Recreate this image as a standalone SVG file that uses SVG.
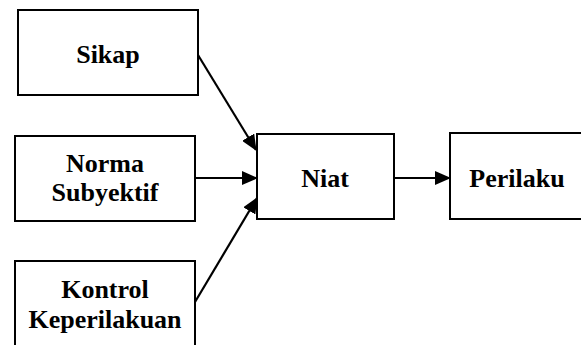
<svg xmlns="http://www.w3.org/2000/svg" width="581" height="345" viewBox="0 0 581 345">
<style>
.box{fill:#fff;stroke:#000;stroke-width:2}
.lbl{font-family:'Liberation Serif','Tinos','DejaVu Serif','Noto Serif',serif;font-weight:700;font-size:26px;fill:#000;text-anchor:middle}
.edge{stroke:#000;stroke-width:2.2;fill:none}
</style>
<defs>
<marker id="ah" markerUnits="userSpaceOnUse" markerWidth="16" markerHeight="14" refX="15" refY="7" orient="auto">
<path d="M0,0 L16,7 L0,14 Z" fill="#000"/>
</marker>
</defs>
<rect width="581" height="345" fill="#fff"/>
<g id="sikap"><rect class="box" x="18" y="10" width="180" height="85"/><text class="lbl" x="108" y="63">Sikap</text></g>
<g id="norma"><rect class="box" x="15" y="136" width="180" height="85"/><text class="lbl" x="105" y="172">Norma</text><text class="lbl" x="105" y="201">Subyektif</text></g>
<g id="kontrol"><rect class="box" x="15" y="261" width="180" height="100"/><text class="lbl" x="105" y="298">Kontrol</text><text class="lbl" x="105" y="328">Keperilakuan</text></g>
<g id="niat"><rect class="box" x="257" y="134" width="137" height="85"/><text class="lbl" x="325" y="187">Niat</text></g>
<g id="perilaku"><rect class="box" x="450" y="133" width="140" height="86"/><text class="lbl" x="517" y="187">Perilaku</text></g>
<g id="connectors">
<line class="edge" x1="198" y1="55" x2="256" y2="150" marker-end="url(#ah)"/>
<line class="edge" x1="195" y1="178" x2="257" y2="178" marker-end="url(#ah)"/>
<line class="edge" x1="195" y1="302" x2="257" y2="198" marker-end="url(#ah)"/>
<line class="edge" x1="394" y1="178" x2="450" y2="178" marker-end="url(#ah)"/>
</g>
</svg>
